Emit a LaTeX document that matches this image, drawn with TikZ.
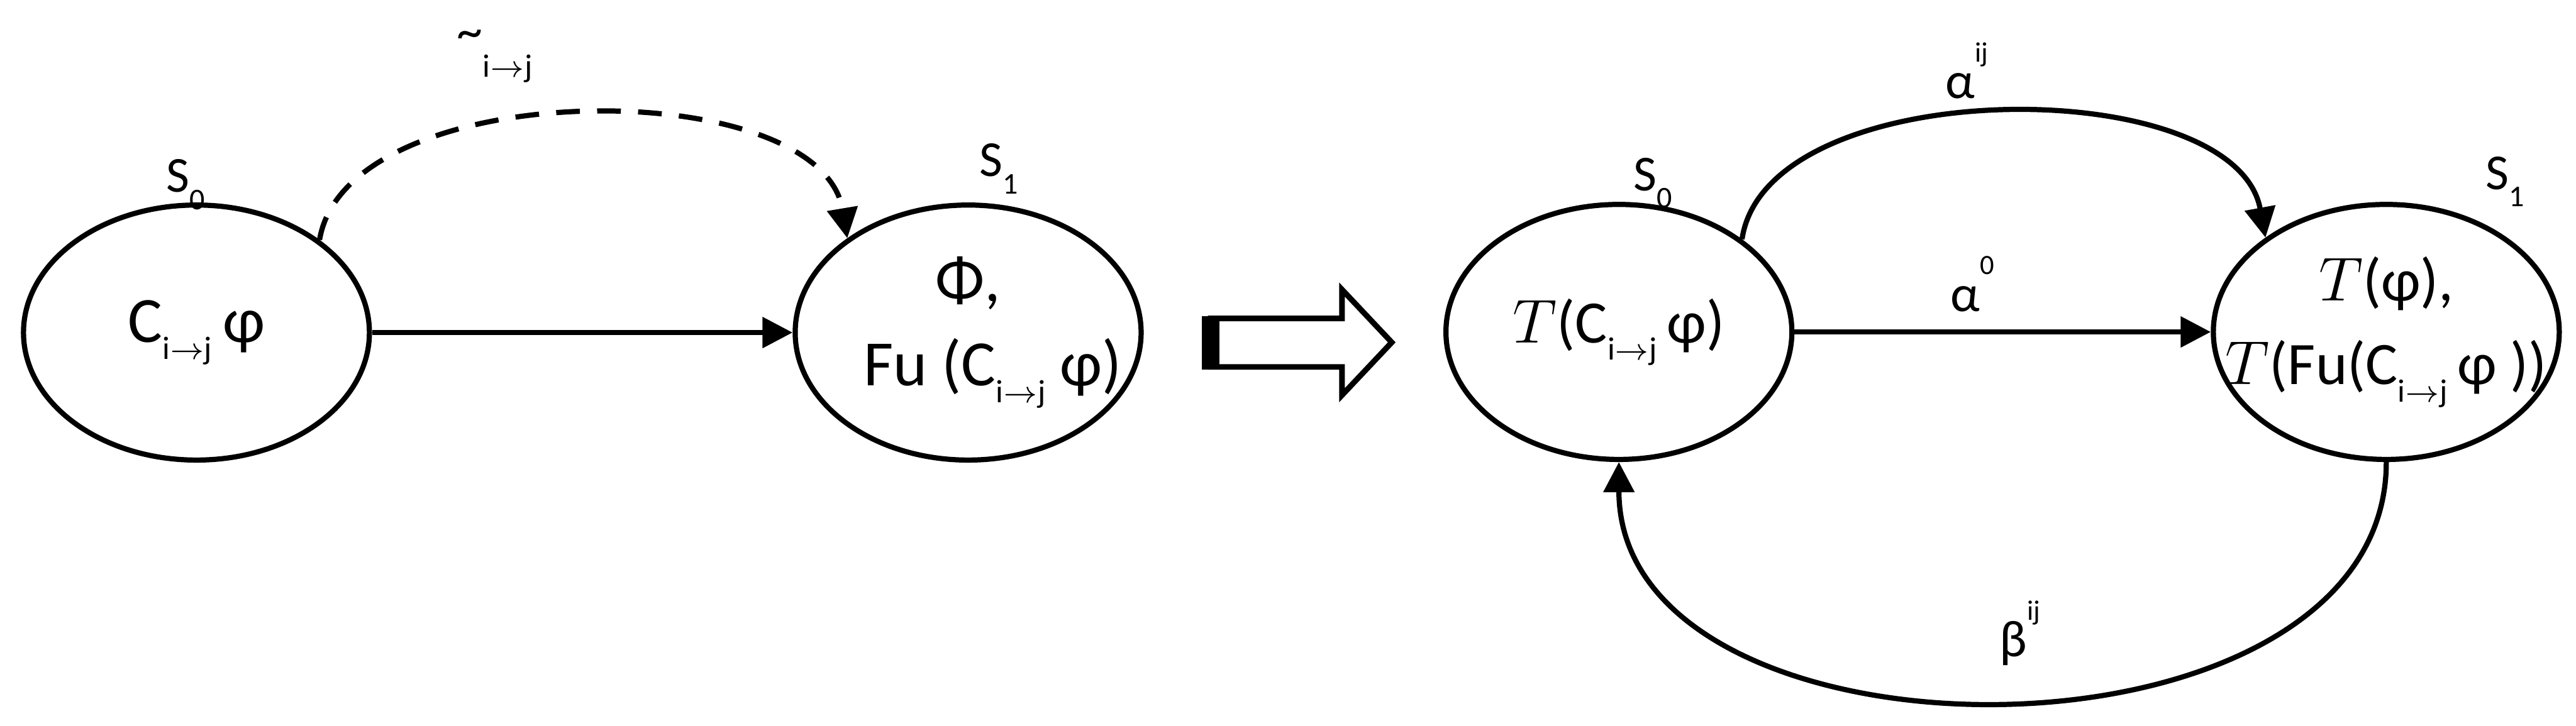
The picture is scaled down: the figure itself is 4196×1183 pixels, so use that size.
\documentclass[tikz,border=0pt]{standalone}
\usepackage{fontspec}
\setmainfont{Carlito}
\usepackage{amsmath}
\usetikzlibrary{arrows.meta,positioning,shapes.geometric}
\newcommand{\subfnt}{\fontsize{7.5}{8}\selectfont}
\newcommand{\sbij}{\raisebox{-4pt}{\subfnt i$\to$j}}
\newcommand{\stlbl}[1]{S\raisebox{-4pt}{\fontsize{7}{8}\selectfont #1}}
\newcommand{\lsup}[1]{\raisebox{8.5pt}{\fontsize{6.5}{7}\selectfont #1}}
\newcommand{\zw}[1]{\makebox[0pt]{#1}}
\tikzset{
  st/.style={draw,ellipse,line width=1.2pt,minimum width=2.82cm,
             minimum height=2.08cm,inner sep=0pt,align=center,
             font=\fontsize{14}{19.5}\selectfont},
  stbig/.style={st,font=\fontsize{15}{19.5}\selectfont},
  slbl/.style={inner sep=0pt,font=\fontsize{11.7}{14}\selectfont},
  lbl/.style={inner sep=0pt,font=\fontsize{12}{14}\selectfont},
  ar/.style={line width=1.2pt,-{Triangle[length=7pt,width=7pt]}},
  ard/.style={ar,dash pattern=on 5.5pt off 4pt},
}

\begin{document}
\begin{tikzpicture}[x=0.005cm,y=-0.005cm]
  \useasboundingbox (0,0) rectangle (4196,1183);
  % before
  \node[stbig] (s0) at (320,542) {\zw{C\sbij\,φ}};
  \node[stbig] (s1) at (1577,542) {\zw{Φ,}\\\zw{\hspace*{0.4cm}Fu (C\sbij\ φ)}};
  \node[slbl] (s0lbl) at (302,301) {\stlbl{0}};
  \node[slbl] (s1lbl) at (1627,275) {\stlbl{1}};
  \draw[ar] (s0) -- (s1);
  \draw[ard] (s0.37) .. controls +(45,-270) and +(-45,-270) .. (s1.142);
  \node[lbl] (cl) at (806,92) {\textasciitilde\raisebox{-6.5pt}{\subfnt i$\to$j}};

  % hollow arrow
  \draw[line width=1.3pt,line join=miter] (1972,519) -- (2186,519) -- (2186,472)
       -- (2267,558) -- (2186,644) -- (2186,598) -- (1972,598) -- cycle;
  \draw[line width=4pt] (1972,515) -- (1972,602);

  % after
  \node[st] (t0) at (2637,541) {\zw{$T$(C\sbij\,φ)}};
  \node[st] (t1) at (3887,541) {\zw{$T$(φ),}\\\zw{$T$(Fu(C\sbij\,φ\ ))}};
  \node[slbl] (t0lbl) at (2692,298) {\stlbl{0}};
  \node[slbl] (t1lbl) at (4080,296) {\stlbl{1}};
  \draw[ar] (t0) -- (t1);
  \draw[ar] (t0.37) .. controls +(40,-272) and +(-50,-272) .. (t1.142);
  \draw[ar] (t1.south) .. controls +(0,519) and +(0,519) .. (t0.south);
  \node[lbl] (a0) at (3213,463) {α\lsup{0}};
  \node[lbl] (aij) at (3204,115) {α\lsup{ij}};
  \node[lbl] (bij) at (3290,1032) {β\lsup{ij}};
\end{tikzpicture}
\end{document}
